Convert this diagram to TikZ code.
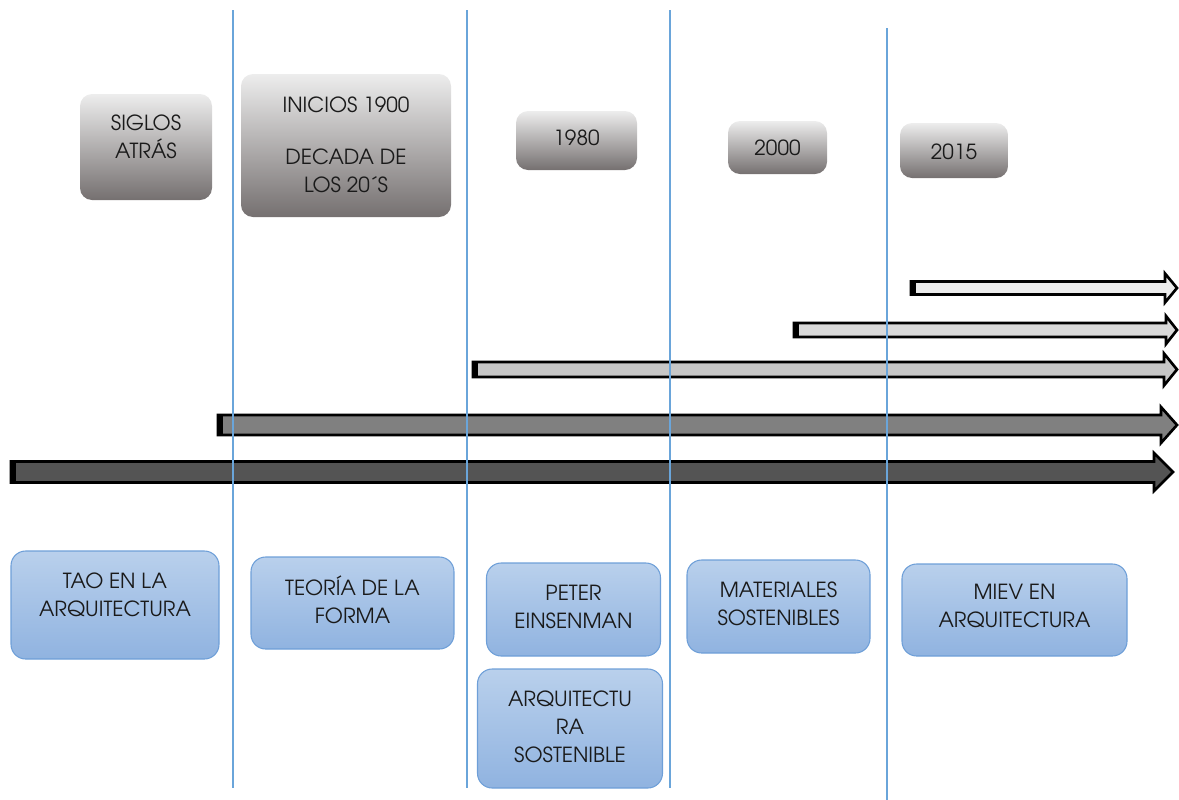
\documentclass[tikz,border=0pt]{standalone}
\usepackage{fontspec}
\setmainfont{texgyreadventor-regular.otf}
\definecolor{vline}{HTML}{6AA5DA}
\definecolor{gtop}{HTML}{EDEDED}
\definecolor{gbot}{HTML}{757070}
\definecolor{btop}{HTML}{B9D0EC}
\definecolor{bbot}{HTML}{90B3E0}
\definecolor{bdraw}{HTML}{6E9FD8}
\definecolor{txtc}{HTML}{1A1A1A}
\begin{document}
\begin{tikzpicture}[x=0.75pt,y=-0.75pt,
  bx/.style 2 args={minimum width=#1*0.75pt, minimum height=#2*0.75pt, inner sep=0pt},
  graybox/.style={rounded corners=9pt, top color=gtop, bottom color=gbot, draw=none},
  bluebox/.style={rounded corners=11pt, top color=btop, bottom color=bbot, draw=bdraw, line width=0.8pt},
  txt/.style={font=\fontsize{15.6pt}{21pt}\selectfont, text=txtc, align=center, inner sep=0pt},
  vl/.style={draw=vline, line width=0.8pt},
  arr/.style={draw=black, line width=2pt, line join=miter},
]
\useasboundingbox (0,0) rectangle (1179,800);

% top gray boxes
\node[graybox, bx={132}{106}] (b1) at (146,147) {};
\node[txt] (b1t) at (146,137) {SIGLOS\\ATRÁS};
\node[graybox, bx={210}{143}] (b2) at (346,145.5) {};
\node[txt] (b2t) at (346,145) {INICIOS 1900\\[18pt]DECADA DE\\LOS 20´S};
\node[graybox, bx={121}{59}] (b3) at (576.5,140.5) {};
\node[txt] (b3t) at (576.5,138) {1980};
\node[graybox, bx={99}{53}] (b4) at (777.5,147.5) {};
\node[txt] (b4t) at (777.5,148) {2000};
\node[graybox, bx={108}{55}] (b5) at (954,150.5) {};
\node[txt] (b5t) at (954,152) {2015};

% arrows
\newcommand{\blockarrow}[8]{% x0, y, h, H, xb, tip, fill, name
  \draw[arr, fill=#7] (#1,#2-#3) -- (#5,#2-#3) -- (#5,#2-#4) -- (#6,#2) -- (#5,#2+#4) -- (#5,#2+#3) -- (#1,#2+#3) -- cycle;
  \fill[black] (#1-1,#2-#3-1) rectangle (#1+5,#2+#3+1);
  \coordinate (#8) at (#1,#2);
}
\blockarrow{911}{288}{6.5}{14.5}{1165}{1177}{black!8}{a1}
\blockarrow{794}{330}{7}{14}{1166}{1177}{black!15}{a2}
\blockarrow{473}{369.5}{7.5}{16}{1164}{1177}{black!22}{a3}
\blockarrow{218}{425}{10}{18}{1161}{1177}{black!50}{a4}
\blockarrow{11}{472}{10.5}{19}{1154}{1173}{black!67}{a5}

% vertical lines
\coordinate (v1t) at (233,10); \coordinate (v1b) at (233,788);
\coordinate (v2t) at (467,10); \coordinate (v2b) at (467,788);
\coordinate (v3t) at (670,10); \coordinate (v3b) at (670,788);
\coordinate (v4t) at (887,28); \coordinate (v4b) at (887,800);
\draw[vl] (v1t) -- (v1b);
\draw[vl] (v2t) -- (v2b);
\draw[vl] (v3t) -- (v3b);
\draw[vl] (v4t) -- (v4b);

% bottom blue boxes
\node[bluebox, bx={208}{108}] (c1) at (115,605) {};
\node[txt] (c1t) at (115,595) {TAO EN LA\\ARQUITECTURA};
\node[bluebox, bx={203}{92}] (c2) at (352.5,603) {};
\node[txt] (c2t) at (352.5,600) {TEORÍA DE LA\\FORMA};
\node[bluebox, bx={174}{93}] (c3) at (573.5,609.5) {};
\node[txt] (c3t) at (573.5,606.5) {PETER\\EINSENMAN};
\node[bluebox, bx={185}{119}] (c4) at (570,728.5) {};
\node[txt] (c4t) at (570,726.5) {ARQUITECTU\\RA\\SOSTENIBLE};
\node[bluebox, bx={183}{93}] (c5) at (778.5,606.5) {};
\node[txt] (c5t) at (778.5,604) {MATERIALES\\SOSTENIBLES};
\node[bluebox, bx={225}{92}] (c6) at (1014.5,610) {};
\node[txt] (c6t) at (1014.5,606) {MIEV EN\\ARQUITECTURA};
\end{tikzpicture}
\end{document}
